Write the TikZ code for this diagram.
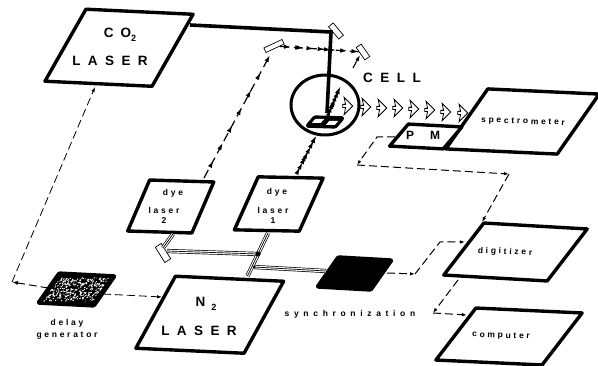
\documentclass[tikz,border=0pt]{standalone}
\usepackage{fontspec}
\usepackage{tikz}
\usetikzlibrary{arrows.meta,positioning,shapes.geometric,shapes.arrows,decorations.markings}
\setmainfont{Liberation Sans}
\newfontfamily\bigwide[LetterSpace=55]{Liberation Sans}
\newfontfamily\smallwide[LetterSpace=32]{Liberation Sans}
\newfontfamily\syncwide[LetterSpace=55]{Liberation Sans}

\begin{document}
\begin{tikzpicture}[
  x=1pt, y=-1pt,
  panel/.style={draw, line width=3.4pt, line join=round, rectangle, inner sep=0pt, outer sep=0pt, fill=white},
  solidpanel/.style={panel, fill=black, rounded corners=1pt},
  biglabel/.style={inner sep=0pt, align=center, font=\bigwide\bfseries\fontsize{13.5}{15}\selectfont},
  smalllabel/.style={inner sep=0pt, align=center, font=\smallwide\bfseries\fontsize{8.5}{10}\selectfont},
  mirror/.style={draw, fill=white, line width=0.7pt, rectangle, inner sep=0pt, minimum height=5pt},
  arr/.style={-{Latex[length=5pt,width=3.5pt]}, line width=1pt, dash pattern=on 8pt off 4pt},
  thinarr/.style={-{Latex[length=5pt,width=3.5pt]}, line width=0.8pt, dash pattern=on 8pt off 4pt},
  pulse/.style={line width=1.2pt, dash pattern=on 9pt off 5pt, postaction={decorate},
    decoration={markings, mark=between positions 0.14 and 1 step 0.143 with {\arrow{Latex[length=7pt,width=4.5pt]}}}},
  shortpulse/.style={pulse, decoration={markings, mark=at position 0.5 with {\arrow{Latex[length=7pt,width=4.5pt]}}, mark=at position 1 with {\arrow{Latex[length=7pt,width=4.5pt]}}}},
  fibre/.style={line width=4.2pt, postaction={draw, white, line width=2.8pt, solid}, postaction={draw, black, line width=0.7pt}},
  co2beam/.style={line width=3.6pt, line join=miter},
  hollow/.style={draw, shape=single arrow, fill=white, line width=0.8pt, inner sep=1.2pt, minimum height=10pt, minimum width=9.5pt, single arrow head indent=1.5pt}
]
  \useasboundingbox (0,0) rectangle (598,366);

  % lasers and instruments
  \node[panel, xslant=.57, yslant=-.046, minimum width=110pt, minimum height=72pt] (co2) at (119,47.75) {};
  \node[panel, xslant=.55, yslant=-.045, minimum width=111pt, minimum height=72pt] (ntwo) at (209.75,314.75) {};
  \node[panel, xslant=.43, yslant=-.03, minimum width=65pt, minimum height=51pt] (dyetwo) at (170.75,206.5) {};
  \node[panel, xslant=.45, yslant=-.02, minimum width=65.5pt, minimum height=53pt] (dyeone) at (278.75,204) {};
  \node[panel, xslant=.7, yslant=-.045, minimum width=115pt, minimum height=60pt] (spectro) at (522.5,121.5) {};
  \node[panel, xslant=.85, yslant=-.05, minimum width=56pt, minimum height=22pt] (pm) at (425.75,136.5) {};
  \node[panel, xslant=.77, yslant=-.055, minimum width=108pt, minimum height=52pt] (digitizer) at (515.5,252) {};
  \node[panel, xslant=.77, yslant=-.045, minimum width=110pt, minimum height=52pt] (computer) at (509,336.5) {};
  \node[solidpanel, xslant=.7, yslant=-.055, minimum width=56pt, minimum height=30pt] (sync) at (354.5,273.5) {};
  \node[solidpanel, xslant=.7, yslant=-.05, minimum width=58pt, minimum height=30pt] (delay) at (76.5,289.5) {};

  % speckle of the delay generator
  \begin{scope}[shift={(delay.center)}, xslant=.7]
    \pgfmathsetseed{11}
    \foreach \i in {1,...,320} {
      \fill[white] ({25*rand},{11.5*rand}) circle (0.8pt);
    }
    \foreach \i in {1,...,60} {
      \fill[black] ({25*rand},{11.5*rand}) circle (1.1pt);
    }
  \end{scope}

  % cell
  \node[draw, ellipse, line width=3pt, minimum width=68pt, minimum height=60pt, inner sep=0pt] (cell) at (325,105) {};
  \node[solidpanel, xslant=.85, yslant=-.03, minimum width=29pt, minimum height=9pt] (sample) at (325,122) {};
  \node[fill=white, xslant=.85, minimum width=9pt, minimum height=4pt, inner sep=0pt] (winleft) at (318,121) {};
  \node[fill=white, xslant=.85, minimum width=9pt, minimum height=4pt, inner sep=0pt] (winright) at (332,123) {};

  % mirrors
  \node[mirror, rotate=25, minimum width=20pt] (mirrorleft) at (274,46) {};
  \node[mirror, rotate=-50, minimum width=16pt, minimum height=6pt] (mirrortop) at (336,31) {};
  \node[mirror, rotate=-55, minimum width=15pt, minimum height=6pt] (mirrorright) at (363,52) {};
  \node[mirror, rotate=-58, minimum width=18pt, minimum height=7pt] (mirrordye) at (163,253) {};

  % free ends of the connectors
  \coordinate (co2exit) at (190,25);
  \coordinate (beamcorner) at (331,32);
  \coordinate (beamfoot) at (327,113);
  \coordinate (co2foot) at (95,87);
  \coordinate (trigcorner) at (12,282);
  \coordinate (delayout) at (103,294);
  \coordinate (ntwoin) at (162,297);
  \coordinate (dyetwotop) at (204,178);
  \coordinate (mirrorleftin) at (270,55);
  \coordinate (dyeonetop) at (297,173);
  \coordinate (cellfoot) at (316,136);
  \coordinate (reflectfoot) at (353,68);
  \coordinate (reflecttop) at (360,55);
  \coordinate (scattertop) at (340,87);
  \coordinate (scatterfoot) at (329,113);
  \coordinate (dyetwofoot) at (173,234);
  \coordinate (dyetwomirror) at (163,248);
  \coordinate (ntwotop) at (247.5,276);
  \coordinate (dyeonefoot) at (268,233);
  \coordinate (junctionup) at (258,254);
  \coordinate (junctiondown) at (254,267);
  \coordinate (mirrordyeout) at (167,251);
  \coordinate (syncin) at (326,271);
  \coordinate (pmout) at (395,137);
  \coordinate (pmcorner) at (377,137);
  \coordinate (pmdown) at (357,165);
  \coordinate (rightcorner) at (509,174);
  \coordinate (digitop) at (482,222);
  \coordinate (syncout) at (387,273);
  \coordinate (syncbend) at (415,274);
  \coordinate (digibend) at (440,242);
  \coordinate (digiin) at (465,242);
  \coordinate (digifoot) at (458,280);
  \coordinate (compcorner) at (433,313);
  \coordinate (compin) at (467,315);

  % beams
  \draw[co2beam] (co2exit) -- (beamcorner) -- (beamfoot);
  \draw[pulse] (dyetwotop) -- (mirrorleftin);
  \draw[shortpulse] (dyeonetop) -- (cellfoot);
  \draw[pulse, decoration={markings, mark=between positions 0.3 and 1 step 0.35 with {\arrow{Latex[length=7pt,width=4.5pt]}}}] (mirrorleft) -- (mirrorright);
  \draw[-{Latex[length=6pt,width=4pt]}, line width=1.1pt] (reflectfoot) -- (reflecttop);
  \draw[shortpulse] (scatterfoot) -- (scattertop);

  % emission towards the spectrometer
  \foreach \px/\py [count=\n] in {347/106,365/107,381/108,397/108,413/109,429/110,445/112,462/113} {
    \node[hollow] (ray\n) at (\px,\py) {};
  }

  % fibres
  \draw[fibre] (dyetwofoot) -- (dyetwomirror);
  \draw[fibre] (mirrordyeout) -- (junctionup);
  \draw[fibre] (ntwotop) -- (dyeonefoot);
  \draw[fibre] (junctiondown) -- (syncin);
  \fill (junctionup) circle (2.5pt);
  \fill (junctiondown) circle (1.5pt);

  % electronics
  \draw[thinarr] (trigcorner) -- (co2foot);
  \draw[arr, -{Latex[length=6pt,width=4pt]}] (delay.west) -- (trigcorner);
  \draw[thinarr] (delayout) -- (ntwoin);
  \draw[arr] (pmout) -- (pmcorner) -- (pmdown);
  \draw[arr] (pmdown) -- (rightcorner);
  \draw[arr] (rightcorner) -- (digitop);
  \draw[arr] (syncout) -- (syncbend);
  \draw[arr] (syncbend) -- (digibend) -- (digiin);
  \draw[arr] (digifoot) -- (compcorner);
  \draw[arr] (compcorner) -- (compin);

  % labels
  \node[biglabel] (co2text) at (120,35) {C\hspace{7pt}O\raisebox{-4pt}{\fontsize{9}{9}\selectfont 2}};
  \node[biglabel] (co2laser) at (110,61) {LASER};
  \node[biglabel] (ntwotext) at (206,304) {N\hspace{6pt}\raisebox{-4pt}{\fontsize{9}{9}\selectfont 2}};
  \node[biglabel] (ntwolaser) at (199,331) {LASER};
  \node[biglabel] (celltext) at (392,78) {CELL};
  \node[smalllabel] (dyetwotext) at (173,193) {dye};
  \node[smalllabel] (dyetwolaser) at (164,215) {laser\\2};
  \node[smalllabel] (dyeonetext) at (277,192) {dye};
  \node[smalllabel] (dyeonelaser) at (273,215) {laser\\1};
  \node[smalllabel, rotate=-2] (spectrotext) at (523,122) {spectrometer};
  \node[biglabel, font=\bfseries\fontsize{12}{14}\selectfont] (pmtext) at (423,135) {P\hspace{16pt}M};
  \node[smalllabel, rotate=-2] (digitext) at (505,252) {digitizer};
  \node[smalllabel, rotate=-2] (comptext) at (501,336) {computer};
  \node[smalllabel, font=\syncwide\bfseries\fontsize{8.5}{10}\selectfont] (synctext) at (350,314) {synchronization};
  \node[smalllabel] (delaytext) at (67,323) {delay};
  \node[smalllabel, below=5pt of delaytext] (gentext) {generator};
\end{tikzpicture}
\end{document}
